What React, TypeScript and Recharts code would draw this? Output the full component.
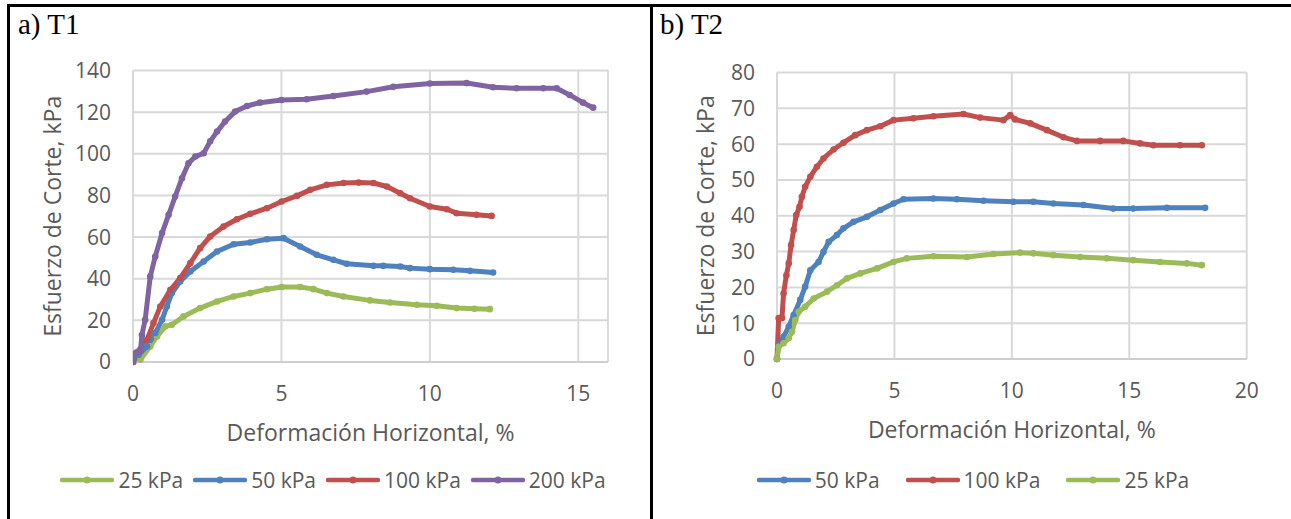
import { LineChart, Line, XAxis, YAxis, CartesianGrid, Legend } from 'recharts';

// a) T1 — strain (%) / shear stress (kPa)
const t1Strain25 = [0, 0.25, 0.58, 0.81, 1.09, 1.31, 1.7, 2.26, 2.83, 3.39, 3.95, 4.51, 5.01, 5.63, 6.08, 6.53, 7.09, 7.98, 8.66, 9.56, 10.23, 10.9, 11.5, 12.02];
const t1Stress25 = [0, 1.1, 7.5, 12.3, 17.1, 17.9, 21.9, 25.9, 29.1, 31.5, 33.1, 35.0, 36.0, 36.0, 35.0, 33.1, 31.5, 29.6, 28.6, 27.5, 27.0, 25.9, 25.6, 25.4];

const t1Strain50 = [0, 0.19, 0.47, 0.75, 0.98, 1.14, 1.31, 1.59, 1.93, 2.38, 2.83, 3.39, 3.95, 4.51, 5.07, 5.63, 6.19, 6.75, 7.2, 8.1, 8.43, 9.0, 9.33, 10.0, 10.79, 11.35, 12.13];
const t1Stress50 = [0, 3.5, 7.5, 13.9, 20.3, 26.7, 33.1, 38.7, 43.5, 48.3, 53.1, 56.6, 57.4, 59.0, 59.5, 55.5, 51.5, 49.1, 47.2, 46.2, 46.2, 45.9, 45.1, 44.6, 44.3, 43.8, 43.0];

const t1Strain100 = [0, 0.11, 0.47, 0.69, 0.92, 1.26, 1.59, 1.93, 2.26, 2.6, 3.05, 3.5, 3.95, 4.51, 5.01, 5.52, 5.97, 6.53, 7.09, 7.6, 8.1, 8.55, 9.0, 9.33, 10.0, 10.57, 10.9, 11.57, 12.08];
const t1Stress100 = [0, 4.3, 10.7, 18.7, 26.7, 34.7, 40.3, 47.5, 54.7, 60.3, 65.1, 68.6, 71.2, 73.9, 77.1, 79.8, 82.7, 85.1, 86.0, 86.2, 86.0, 84.3, 81.1, 78.7, 74.7, 73.4, 71.5, 70.7, 70.2];

const t1Strain200 = [0, 0.11, 0.25, 0.3, 0.41, 0.58, 0.75, 0.98, 1.2, 1.42, 1.65, 1.87, 2.1, 2.38, 2.6, 2.83, 3.1, 3.44, 3.84, 4.28, 5.0, 5.85, 6.75, 7.87, 8.77, 10.0, 11.24, 12.13, 12.92, 13.82, 14.27, 14.71, 15.16, 15.5];
const t1Stress200 = [0, 4.6, 5.0, 13, 20.3, 41, 50.7, 62, 70.7, 79.5, 88.3, 95.5, 98.7, 100.3, 106, 110.7, 115.5, 120.3, 123, 124.6, 125.9, 126.2, 127.8, 129.9, 132.2, 133.8, 134, 132, 131.5, 131.5, 131.5, 128.3, 124.6, 122.2];

// b) T2
const t2Strain50 = [0, 0.07, 0.28, 0.5, 0.71, 0.99, 1.2, 1.42, 1.77, 1.98, 2.2, 2.55, 2.83, 3.26, 3.83, 4.4, 4.96, 5.39, 6.66, 7.66, 8.79, 10.07, 10.92, 11.77, 13.05, 14.32, 15.17, 16.6, 18.23];
const t2Stress50 = [0, 3.9, 6.2, 9.0, 12.3, 16.5, 20.2, 24.8, 27.1, 29.9, 32.7, 34.6, 36.5, 38.3, 39.7, 41.6, 43.4, 44.6, 44.8, 44.6, 44.2, 43.9, 43.9, 43.4, 43.0, 42.0, 42.0, 42.2, 42.2];

const t2Strain100 = [0, 0.07, 0.21, 0.28, 0.4, 0.5, 0.6, 0.71, 0.82, 0.96, 1.06, 1.2, 1.42, 1.7, 1.98, 2.41, 2.83, 3.33, 3.83, 4.4, 4.96, 5.81, 6.66, 7.94, 8.65, 9.64, 9.93, 10.14, 10.78, 11.49, 12.2, 12.77, 13.76, 14.75, 15.46, 16.03, 17.16, 18.09];
const t2Stress100 = [0, 11.4, 11.4, 18.3, 23.4, 26.7, 31.8, 36, 40.2, 42.5, 45.3, 48.1, 50.9, 53.7, 56, 58.5, 60.4, 62.5, 63.9, 65, 66.7, 67.2, 67.8, 68.4, 67.4, 66.7, 68.1, 66.9, 65.8, 63.9, 61.9, 60.9, 60.9, 60.9, 60.2, 59.7, 59.7, 59.7];

const t2Strain25 = [0, 0.07, 0.28, 0.5, 0.64, 0.78, 0.92, 1.2, 1.56, 2.13, 2.55, 2.98, 3.55, 4.26, 4.96, 5.53, 6.66, 8.09, 9.22, 10.35, 10.92, 11.77, 12.91, 14.04, 15.17, 16.31, 17.45, 18.09];
const t2Stress25 = [0, 3.4, 4.4, 5.8, 7.6, 10.9, 13.2, 14.6, 16.9, 18.8, 20.6, 22.5, 23.9, 25.3, 27.1, 28.1, 28.7, 28.5, 29.3, 29.7, 29.5, 29.0, 28.5, 28.1, 27.6, 27.1, 26.7, 26.2];

const t1Names = ['25 kPa', '50 kPa', '100 kPa', '200 kPa'];
const t2Names = ['50 kPa', '100 kPa', '25 kPa'];
const t1XTicks = [0, 5, 10, 15];
const t1YTicks = [0, 20, 40, 60, 80, 100, 120, 140];
const t2XTicks = [0, 5, 10, 15, 20];
const t2YTicks = [0, 10, 20, 30, 40, 50, 60, 70, 80];

const GREEN = '#9BBB59';
const BLUE = '#4F81BD';
const RED = '#C0504D';
const PURPLE = '#8064A2';
const TEXT = '#595959';
const GRID = '#d9d9d9';
const FONT = '"Open Sans", sans-serif';

const pts = (xs: number[], ys: number[]) => xs.map((x, i) => ({ x, y: ys[i] }));

const tickStyle = { fill: TEXT, fontSize: 21, fontFamily: FONT };
const titleStyle = { fill: TEXT, fontSize: 23, fontFamily: FONT };

// legend in the order the series appear in the original, not sorted
const makeLegend = (order: string[], gap: number) => (props: any) => {
  const items = [...(props.payload || [])].sort((a: any, b: any) => order.indexOf(a.value) - order.indexOf(b.value));
  return (
    <div
      style={{
        display: 'flex',
        justifyContent: 'center',
        alignItems: 'center',
        height: 30,
        fontFamily: FONT,
        fontSize: 21,
        color: TEXT,
      }}
    >
      {items.map((entry: any, i: number) => (
        <div key={entry.value} style={{ display: 'flex', alignItems: 'center', marginLeft: i ? gap : 0 }}>
          <svg width={54} height={10}>
            <line x1={2} y1={5} x2={52} y2={5} stroke={entry.color} strokeWidth={4.5} strokeLinecap="round" />
            <circle cx={27} cy={5} r={3.5} fill={entry.color} />
          </svg>
          <span style={{ marginLeft: 4, lineHeight: 1 }}>{entry.value}</span>
        </div>
      ))}
    </div>
  );
};

const series = (name: string, color: string, xs: number[], ys: number[]) => (
  <Line
    key={name}
    name={name}
    type="linear"
    data={pts(xs, ys)}
    dataKey="y"
    stroke={color}
    strokeWidth={5}
    strokeLinejoin="round"
    dot={{ r: 3.3, fill: color, stroke: color, strokeWidth: 0 }}
    activeDot={false}
    isAnimationActive={false}
  />
);

const yTitle = 'Esfuerzo de Corte, kPa';
const xTitle = 'Deformación Horizontal, %';

export default function App() {
  return (
    <div style={{ position: 'absolute', left: 0, top: 0, width: 1291, height: 519, background: '#fff', overflow: 'hidden' }}>
      {/* panel frame */}
      <div style={{ position: 'absolute', left: 7, top: 4, width: 1284, height: 3, background: '#000' }} />
      <div style={{ position: 'absolute', left: 7, top: 4, width: 3, height: 515, background: '#000' }} />
      <div style={{ position: 'absolute', left: 650, top: 4, width: 3, height: 515, background: '#000' }} />
      <div style={{ position: 'absolute', left: 18, top: 9, fontFamily: '"Liberation Serif", serif', fontSize: 29, lineHeight: '30px' }}>a) T1</div>
      <div style={{ position: 'absolute', left: 660, top: 9, fontFamily: '"Liberation Serif", serif', fontSize: 29, lineHeight: '30px' }}>b) T2</div>

      <div style={{ position: 'absolute', left: 8, top: 0 }}>
        <LineChart width={650} height={519} margin={{ top: 70.6, right: 50, left: 10, bottom: 24 }}>
          <CartesianGrid stroke={GRID} strokeWidth={2} />
          <XAxis
            type="number"
            dataKey="x"
            domain={[0, 16]}
            ticks={t1XTicks}
            allowDataOverflow
            height={103}
            tickLine={false}
            axisLine={{ stroke: '#cfcfcf', strokeWidth: 2 }}
            tickMargin={18}
            tick={tickStyle}
            label={{ value: xTitle, position: 'insideTop', offset: 63, style: titleStyle }}
          />
          <YAxis
            type="number"
            domain={[0, 140]}
            ticks={t1YTicks}
            width={115}
            tickLine={false}
            axisLine={false}
            tickMargin={16}
            tick={tickStyle}
            label={{ value: yTitle, angle: -90, position: 'insideLeft', offset: 35, style: { ...titleStyle, textAnchor: 'middle' } }}
          />
          <Legend verticalAlign="bottom" height={30} wrapperStyle={{ left: 0, width: 650 }} content={makeLegend(t1Names, 10)} />
          {series(t1Names[0], GREEN, t1Strain25, t1Stress25)}
          {series(t1Names[1], BLUE, t1Strain50, t1Stress50)}
          {series(t1Names[2], RED, t1Strain100, t1Stress100)}
          {series(t1Names[3], PURPLE, t1Strain200, t1Stress200)}
        </LineChart>
      </div>

      <div style={{ position: 'absolute', left: 655, top: 0 }}>
        <LineChart width={636} height={519} margin={{ top: 72.5, right: 44.3, left: 10, bottom: 24 }}>
          <CartesianGrid stroke={GRID} strokeWidth={2} />
          <XAxis
            type="number"
            dataKey="x"
            domain={[0, 20]}
            ticks={t2XTicks}
            height={106}
            tickLine={false}
            axisLine={{ stroke: '#cfcfcf', strokeWidth: 2 }}
            tickMargin={18}
            tick={tickStyle}
            label={{ value: xTitle, position: 'insideTop', offset: 63, style: titleStyle }}
          />
          <YAxis
            type="number"
            domain={[0, 80]}
            ticks={t2YTicks}
            width={112}
            tickLine={false}
            axisLine={false}
            tickMargin={16}
            tick={tickStyle}
            label={{ value: yTitle, angle: -90, position: 'insideLeft', offset: 41, style: { ...titleStyle, textAnchor: 'middle' } }}
          />
          <Legend verticalAlign="bottom" height={30} wrapperStyle={{ left: 0, width: 636 }} content={makeLegend(t2Names, 26)} />
          {series(t2Names[0], BLUE, t2Strain50, t2Stress50)}
          {series(t2Names[1], RED, t2Strain100, t2Stress100)}
          {series(t2Names[2], GREEN, t2Strain25, t2Stress25)}
        </LineChart>
      </div>
    </div>
  );
}
